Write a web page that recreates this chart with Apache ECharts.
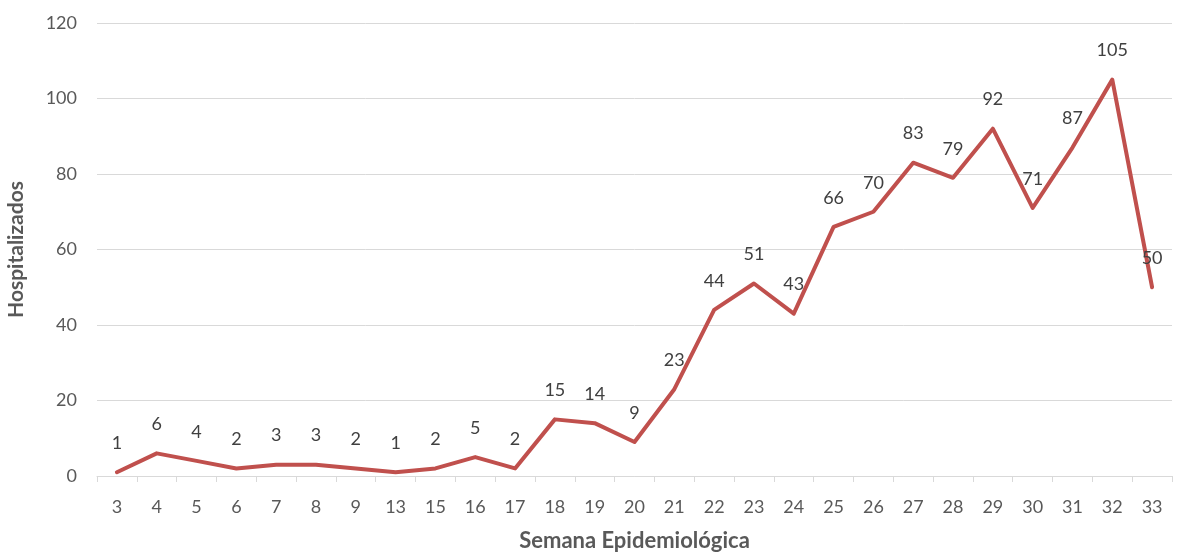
<!DOCTYPE html>
<html>
<head>
<meta charset="utf-8">
<script src="https://cdn.jsdelivr.net/npm/echarts@6/dist/echarts.min.js"></script>
<style>
  html, body { margin: 0; padding: 0; background: #fff; }
  #chart { width: 1178px; height: 555px; }
</style>
</head>
<body>
<div id="chart"></div>
<script>
// semanas epidemiologicas (categorias del eje x)
const semanas = ['3', '4', '5', '6', '7', '8', '9', '13', '15', '16', '17', '18', '19', '20',
  '21', '22', '23', '24', '25', '26', '27', '28', '29', '30', '31', '32', '33']
// hospitalizados por semana
const hospitalizados = [1, 6, 4, 2, 3, 3, 2, 1, 2, 5, 2, 15, 14, 9,
  23, 44, 51, 43, 66, 70, 83, 79, 92, 71, 87, 105, 50]
const yTicks = [0, 20, 40, 60, 80, 100, 120]

const font = 'Lato, "Open Sans", sans-serif'
const chart = echarts.init(document.getElementById('chart'))

chart.setOption({
  animation: false,
  textStyle: { fontFamily: font },
  grid: { left: 97, right: 6, top: 23, bottom: 79, outerBoundsMode: 'none', containLabel: false },
  xAxis: {
    type: 'category',
    data: semanas,
    boundaryGap: true,
    name: 'Semana Epidemiológica',
    nameLocation: 'middle',
    nameGap: 54,
    nameTextStyle: { fontSize: 22, fontWeight: 'bold', color: '#595959', fontFamily: font },
    axisLine: { lineStyle: { color: '#d9d9d9', width: 1 } },
    axisTick: { show: true, alignWithLabel: false, length: 6, lineStyle: { color: '#d9d9d9' } },
    axisLabel: { fontSize: 18, color: '#595959', margin: 22, interval: 0, fontFamily: font },
    splitLine: { show: false }
  },
  yAxis: {
    type: 'value',
    min: yTicks[0],
    max: yTicks[yTicks.length - 1],
    interval: 20,
    name: 'Hospitalizados',
    nameLocation: 'middle',
    nameGap: 70,
    nameTextStyle: { fontSize: 21, fontWeight: 'bold', color: '#595959', fontFamily: font },
    axisLine: { show: false },
    axisTick: { show: false },
    axisLabel: { fontSize: 18, color: '#595959', margin: 20, fontFamily: font },
    splitLine: { lineStyle: { color: '#d9d9d9', width: 1 } }
  },
  series: [{
    name: 'Hospitalizados',
    type: 'line',
    data: hospitalizados,
    symbol: 'circle',
    symbolSize: 0.1,
    showSymbol: true,
    itemStyle: { color: '#c0504d' },
    lineStyle: { color: '#c0504d', width: 4, cap: 'round', join: 'round' },
    label: {
      show: true,
      position: 'top',
      distance: 20,
      fontSize: 18,
      color: '#404040',
      fontFamily: font
    }
  }]
})
</script>
</body>
</html>
